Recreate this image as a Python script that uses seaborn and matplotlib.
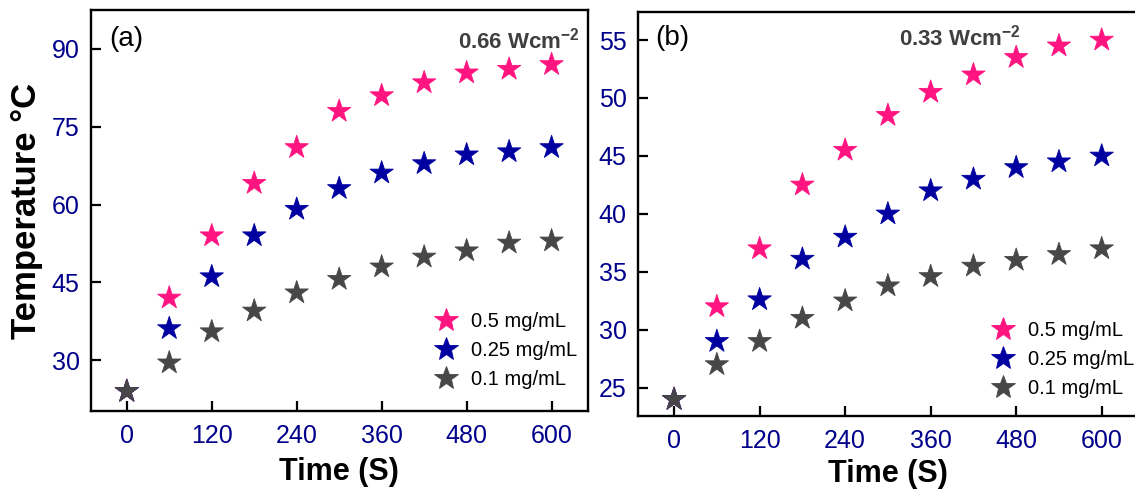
import numpy as np
import pandas as pd
import matplotlib
matplotlib.use("Agg")
import matplotlib.pyplot as plt
import seaborn as sns

# Heating time (s)
time_s = [0, 60, 120, 180, 240, 300, 360, 420, 480, 540, 600]
concentrations = ["0.5 mg/mL", "0.25 mg/mL", "0.1 mg/mL"]

# (a) 0.66 W cm^-2
temp_a_05 = [24, 42.0, 54.0, 64.1, 71.0, 78.0, 81.0, 83.5, 85.4, 86.1, 87.0]
temp_a_025 = [24, 36.1, 46.1, 54.0, 59.1, 63.1, 66.1, 67.9, 69.6, 70.2, 71.0]
temp_a_01 = [24, 29.5, 35.5, 39.5, 43.0, 45.6, 48.0, 49.9, 51.1, 52.6, 53.0]

# (b) 0.33 W cm^-2
temp_b_05 = [24, 32.0, 37.0, 42.5, 45.5, 48.5, 50.5, 52.0, 53.5, 54.5, 55.0]
temp_b_025 = [24, 29.0, 32.6, 36.1, 38.0, 40.0, 42.0, 43.0, 44.0, 44.5, 45.0]
temp_b_01 = [24, 27.0, 29.0, 31.0, 32.5, 33.8, 34.6, 35.5, 36.0, 36.5, 37.0]

x_ticks = [0, 120, 240, 360, 480, 600]
y_ticks_a = [30, 45, 60, 75, 90]
y_ticks_b = [25, 30, 35, 40, 45, 50, 55]

palette = {"0.5 mg/mL": "#FF1480", "0.25 mg/mL": "#0000A0", "0.1 mg/mL": "#474747"}
tick_color = "#00008B"

sns.set_theme(style="ticks")
plt.rcParams["font.family"] = ["Liberation Sans", "DejaVu Sans"]
plt.rcParams["text.color"] = "black"
plt.rcParams["axes.labelcolor"] = "black"
plt.rcParams["mathtext.fontset"] = "custom"
plt.rcParams["mathtext.rm"] = "Liberation Sans"
plt.rcParams["mathtext.bf"] = "Liberation Sans:bold"


def long_form(series):
    frames = []
    for name, vals in zip(concentrations, series):
        frames.append(pd.DataFrame({"Time": time_s, "Temp": vals, "Conc": name}))
    return pd.concat(frames, ignore_index=True)


df_a = long_form([temp_a_05, temp_a_025, temp_a_01])
df_b = long_form([temp_b_05, temp_b_025, temp_b_01])

fig = plt.figure(figsize=(11.35, 4.91), dpi=100)
ax_a = fig.add_axes([0.0799, 0.1629, 0.4379, 0.8167])
ax_b = fig.add_axes([0.5619, 0.1527, 0.4408, 0.8234])


def draw(ax, df, ylim, yticks, tag, power, power_xy, leg_anchor, tag_xy, xlabelpad):
    sns.scatterplot(data=df, x="Time", y="Temp", hue="Conc", hue_order=concentrations,
                    palette=palette, marker="*", s=310, linewidth=0.6,
                    ax=ax, legend=False, zorder=3)
    # edges in series colour
    for coll in ax.collections:
        coll.set_edgecolor(coll.get_facecolor())
    ax.set_xlim(-51, 651)
    ax.set_ylim(*ylim)
    ax.set_xticks(x_ticks)
    ax.set_yticks(yticks)
    ax.tick_params(direction="in", length=7, width=1.6, labelsize=18,
                   labelcolor=tick_color, color="black", pad=8)
    ax.tick_params(axis="x", pad=9)
    for sp in ax.spines.values():
        sp.set_linewidth(1.7)
        sp.set_color("black")
    ax.set_xlabel("Time (S)", fontsize=22, fontweight="bold", labelpad=xlabelpad)
    ax.set_ylabel("")
    ax.text(*tag_xy, tag, transform=ax.transAxes, fontsize=20, ha="left", va="center")
    ax.text(*power_xy, power, transform=ax.transAxes, fontsize=16, fontweight="bold",
            color="#3F3F3F", ha="right", va="center")
    handles = [plt.Line2D([], [], linestyle="none", marker="*", markersize=18,
                          color=palette[c], markeredgewidth=0.6) for c in concentrations]
    ax.legend(handles, concentrations, loc="center left", bbox_to_anchor=leg_anchor,
              frameon=False, fontsize=14.5, handletextpad=0.65, labelspacing=0.5,
              borderpad=0, borderaxespad=0, handlelength=1.2)


draw(ax_a, df_a, (20.2, 97.5), y_ticks_a, "(a)", r"0.66 Wcm$^{\mathbf{-2}}$",
     (0.985, 0.925), (0.69, 0.15), (0.038, 0.928), 7)
draw(ax_b, df_b, (22.56, 57.44), y_ticks_b, "(b)", r"0.33 Wcm$^{\mathbf{-2}}$",
     (0.765, 0.935), (0.705, 0.14), (0.035, 0.935), 5)

ax_a.set_ylabel("Temperature \u00b0C", fontsize=25, fontweight="bold", labelpad=6)

fig.savefig("out.png", dpi=100)
